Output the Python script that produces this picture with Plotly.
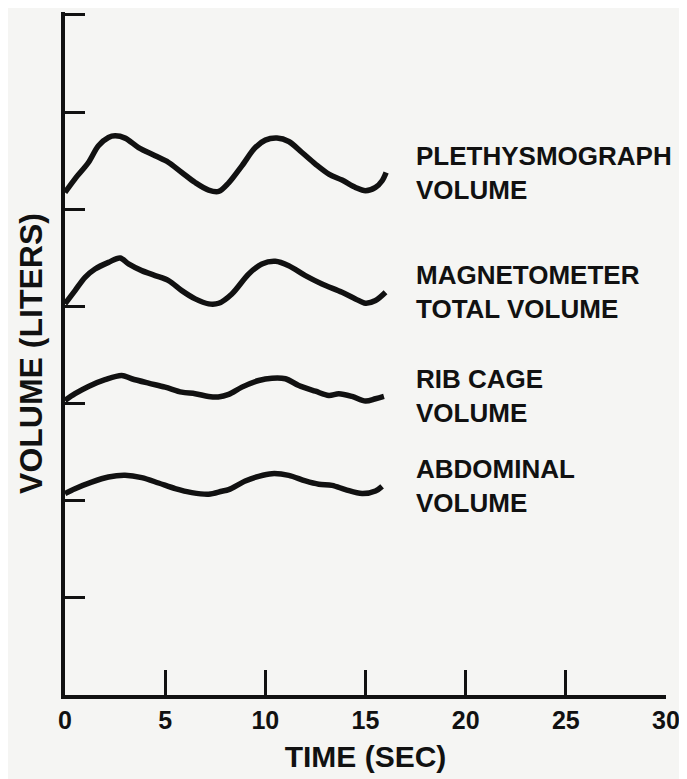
import plotly.graph_objects as go

# ---- data (time in seconds, volume in liters, arbitrary offset per trace) ----
pleth_t = [0, 0.5, 1.17, 1.67, 2.17, 2.5, 3.0, 3.67, 4.5, 5.17, 5.83, 6.5, 7.17, 7.67, 8.17,
           8.83, 9.5, 10.0, 10.58, 11.17, 11.83, 12.5, 13.17, 13.83, 14.5, 15.0, 15.5, 15.83, 16.03]
pleth_v = [5.173, 5.313, 5.481, 5.653, 5.738, 5.755, 5.732, 5.635, 5.550, 5.481, 5.378, 5.275,
           5.197, 5.183, 5.272, 5.447, 5.635, 5.711, 5.732, 5.697, 5.584, 5.465, 5.362, 5.300,
           5.224, 5.190, 5.224, 5.293, 5.378]

magnet_t = [0, 0.5, 1.0, 1.5, 2.17, 2.75, 3.17, 3.83, 4.5, 5.17, 5.83, 6.5, 7.17, 7.67, 8.33,
            9.17, 9.83, 10.5, 11.17, 12.0, 12.83, 13.83, 14.5, 15.0, 15.5, 16.0]
magnet_v = [4.026, 4.162, 4.299, 4.385, 4.453, 4.498, 4.437, 4.368, 4.317, 4.265, 4.162, 4.077,
            4.026, 4.032, 4.128, 4.334, 4.437, 4.464, 4.419, 4.317, 4.231, 4.145, 4.077, 4.032,
            4.060, 4.145]

rib_t = [0, 0.5, 1.17, 2.0, 2.83, 3.33, 4.17, 5.0, 5.83, 6.5, 7.17, 7.65, 8.17, 8.83, 9.67,
         10.33, 11.0, 11.67, 12.5, 13.17, 13.67, 14.33, 15.0, 15.5, 15.92]
rib_v = [3.032, 3.101, 3.176, 3.245, 3.289, 3.255, 3.210, 3.169, 3.117, 3.101, 3.073, 3.068,
         3.094, 3.169, 3.237, 3.261, 3.255, 3.186, 3.127, 3.083, 3.101, 3.073, 3.025, 3.049, 3.073]

abd_t = [0, 0.5, 1.33, 2.17, 3.0, 3.83, 4.67, 5.5, 6.33, 7.17, 7.83, 8.17, 9.0, 9.67, 10.33,
         11.17, 12.0, 12.67, 13.33, 14.0, 14.83, 15.5, 15.83]
abd_v = [2.073, 2.124, 2.192, 2.244, 2.261, 2.237, 2.182, 2.124, 2.083, 2.066, 2.097, 2.114,
         2.203, 2.251, 2.278, 2.261, 2.203, 2.169, 2.158, 2.114, 2.073, 2.100, 2.148]

labels = ["PLETHYSMOGRAPH<br>VOLUME", "MAGNETOMETER<br>TOTAL VOLUME",
          "RIB CAGE<br>VOLUME", "ABDOMINAL<br>VOLUME"]
x_ticks = [0, 5, 10, 15, 20, 25, 30]
y_ticks = [0, 1, 2, 3, 4, 5, 6, 7]

series = [(pleth_t, pleth_v), (magnet_t, magnet_v), (rib_t, rib_v), (abd_t, abd_v)]

INK = "#111111"
PAPER = "#f5f5f3"
FONT = "Liberation Sans"

fig = go.Figure()
for t, v in series:
    fig.add_trace(go.Scatter(x=t, y=v, mode="lines",
                             line=dict(color=INK, width=5.5, shape="spline", smoothing=0.9),
                             showlegend=False, hoverinfo="skip"))

label_x = 17.4
for (t, v), lab in zip(series, labels):
    fig.add_annotation(x=label_x, y=v[-1], xref="x", yref="y", text="<b>" + lab + "</b>",
                       showarrow=False, xanchor="left", yanchor="middle", align="left",
                       font=dict(family=FONT, size=26, color=INK))

# the page body adds an 8px margin, so the figure is sized/offset to compensate
fig.update_layout(
    width=679, height=771,
    margin=dict(l=57, r=21, t=4, b=84, autoexpand=False),
    paper_bgcolor=PAPER, plot_bgcolor=PAPER,
    showlegend=False,
)
fig.update_xaxes(range=[0, 30.001], tickvals=x_ticks,
                 ticktext=["<b>%d</b>" % v for v in x_ticks],
                 automargin=False,
                 showline=True, linecolor=INK, linewidth=3.5, showgrid=False, zeroline=False,
                 ticks="inside", ticklen=25, tickwidth=3, tickcolor=INK,
                 tickfont=dict(family=FONT, size=25, color=INK),
                 title=dict(text="<b>TIME (SEC)</b>", font=dict(family=FONT, size=30, color=INK),
                            standoff=14))
fig.update_yaxes(range=[0, 7.03], tickvals=y_ticks, showticklabels=False,
                 automargin=False,
                 showline=True, linecolor=INK, linewidth=3.5, showgrid=False, zeroline=False,
                 ticks="inside", ticklen=20, tickwidth=3, tickcolor=INK,
                 title=dict(text="<b>VOLUME (LITERS)</b>", font=dict(family=FONT, size=32, color=INK),
                            standoff=10))

fig.write_html("out.html")
